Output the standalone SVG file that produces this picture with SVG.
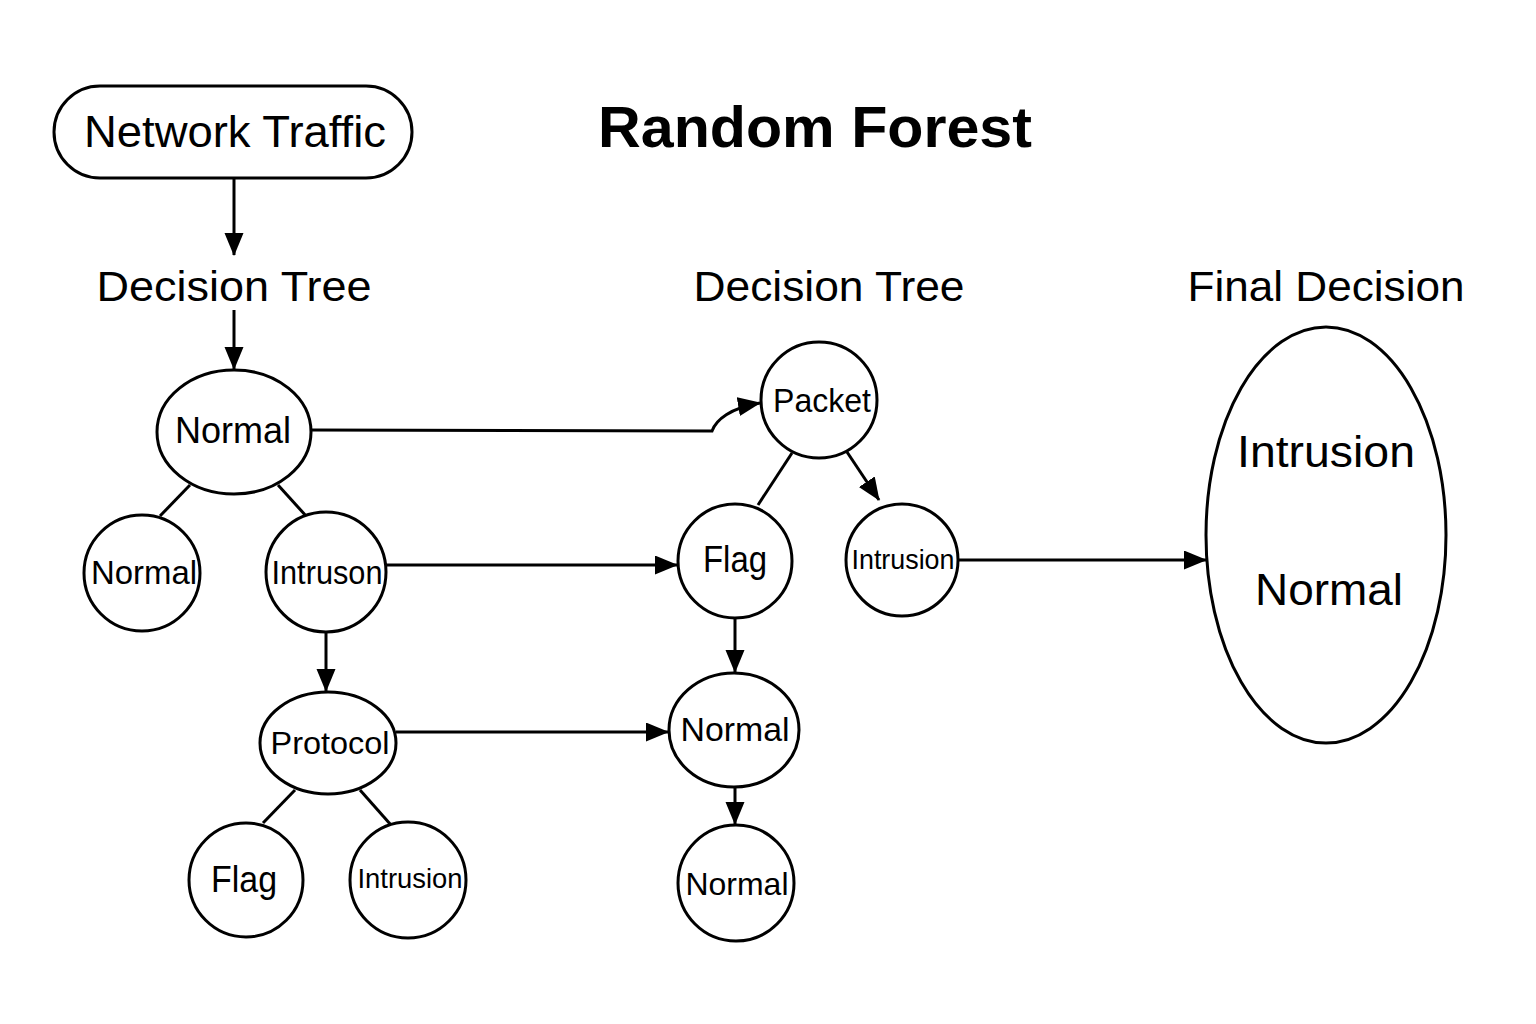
<svg xmlns="http://www.w3.org/2000/svg" width="1536" height="1024" viewBox="0 0 1536 1024">
<defs>
<marker id="ah" markerUnits="userSpaceOnUse" markerWidth="23" markerHeight="20" refX="22" refY="9.5" orient="auto">
<path d="M0,0 L23,9.5 L0,19 z" fill="#000"/>
</marker>
<style>
.n{fill:#fff;stroke:#000;stroke-width:3}
.t{font-family:"Liberation Sans",Arial,sans-serif;fill:#000;text-anchor:middle}
.c{fill:none;stroke:#000;stroke-width:3}
.a{fill:none;stroke:#000;stroke-width:3;marker-end:url(#ah)}
</style>
</defs>
<rect width="1536" height="1024" fill="#fff"/>
<g id="connectors">
<path class="a" d="M234 178 L234 255"/>
<path class="a" d="M234 310 L234 369"/>
<path class="c" d="M190 485 L160 516"/>
<path class="c" d="M278 485 L307 517"/>
<path class="a" d="M326 631 L326 691"/>
<path class="c" d="M295 790 L263 823"/>
<path class="c" d="M360 790 L391 825"/>
<path class="a" d="M311 430 L712 431 C716 420 730 408 760 403"/>
<path class="c" d="M792 453 L758 505"/>
<path class="a" d="M847 452 L879 500"/>
<path class="a" d="M386 565 L677 565"/>
<path class="a" d="M735 619 L735 672"/>
<path class="a" d="M396 732 L668 732"/>
<path class="a" d="M735 787 L735 824"/>
<path class="a" d="M958 560 L1206 560"/>
</g>
<g id="title"><text class="t" x="815" y="147" font-size="57" font-weight="bold" textLength="434" lengthAdjust="spacingAndGlyphs">Random Forest</text></g>
<g id="network-traffic">
<rect class="n" x="54" y="86" width="358" height="92" rx="46"/>
<text class="t" x="235" y="147" font-size="44" textLength="302" lengthAdjust="spacingAndGlyphs">Network Traffic</text>
</g>
<g id="label-tree1"><text class="t" x="234" y="301" font-size="42" textLength="275" lengthAdjust="spacingAndGlyphs">Decision Tree</text></g>
<g id="label-tree2"><text class="t" x="829" y="301" font-size="42" textLength="271" lengthAdjust="spacingAndGlyphs">Decision Tree</text></g>
<g id="label-final"><text class="t" x="1326" y="301" font-size="42" textLength="277" lengthAdjust="spacingAndGlyphs">Final Decision</text></g>
<g id="t1-root">
<ellipse class="n" cx="234" cy="432" rx="77" ry="62"/>
<text class="t" x="233" y="443" font-size="36" textLength="116" lengthAdjust="spacingAndGlyphs">Normal</text>
</g>
<g id="t1-normal">
<circle class="n" cx="142" cy="573" r="58"/>
<text class="t" x="144" y="584" font-size="33" textLength="106" lengthAdjust="spacingAndGlyphs">Normal</text>
</g>
<g id="t1-intruson">
<circle class="n" cx="326" cy="572" r="60"/>
<text class="t" x="327" y="584" font-size="33" textLength="111" lengthAdjust="spacingAndGlyphs">Intruson</text>
</g>
<g id="t1-protocol">
<ellipse class="n" cx="328" cy="743" rx="68" ry="51"/>
<text class="t" x="330" y="754" font-size="32" textLength="119" lengthAdjust="spacingAndGlyphs">Protocol</text>
</g>
<g id="t1-flag">
<circle class="n" cx="246" cy="880" r="57"/>
<text class="t" x="244" y="892" font-size="36" textLength="66" lengthAdjust="spacingAndGlyphs">Flag</text>
</g>
<g id="t1-intrusion">
<circle class="n" cx="408" cy="880" r="58"/>
<text class="t" x="410" y="888" font-size="28" textLength="105" lengthAdjust="spacingAndGlyphs">Intrusion</text>
</g>
<g id="t2-packet">
<circle class="n" cx="819" cy="400" r="58"/>
<text class="t" x="822" y="412" font-size="34" textLength="98" lengthAdjust="spacingAndGlyphs">Packet</text>
</g>
<g id="t2-flag">
<circle class="n" cx="735" cy="561" r="57"/>
<text class="t" x="735" y="572" font-size="36" textLength="64" lengthAdjust="spacingAndGlyphs">Flag</text>
</g>
<g id="t2-intrusion">
<circle class="n" cx="902" cy="560" r="56"/>
<text class="t" x="903" y="569" font-size="28" textLength="103" lengthAdjust="spacingAndGlyphs">Intrusion</text>
</g>
<g id="t2-normal1">
<ellipse class="n" cx="734" cy="730" rx="65" ry="57"/>
<text class="t" x="735" y="741" font-size="34" textLength="109" lengthAdjust="spacingAndGlyphs">Normal</text>
</g>
<g id="t2-normal2">
<circle class="n" cx="736" cy="883" r="58"/>
<text class="t" x="737" y="895" font-size="32" textLength="103" lengthAdjust="spacingAndGlyphs">Normal</text>
</g>
<g id="final">
<ellipse class="n" cx="1326" cy="535" rx="120" ry="208"/>
<text class="t" x="1326" y="467" font-size="44" textLength="178" lengthAdjust="spacingAndGlyphs">Intrusion</text>
<text class="t" x="1329" y="605" font-size="44" textLength="148" lengthAdjust="spacingAndGlyphs">Normal</text>
</g>
</svg>
